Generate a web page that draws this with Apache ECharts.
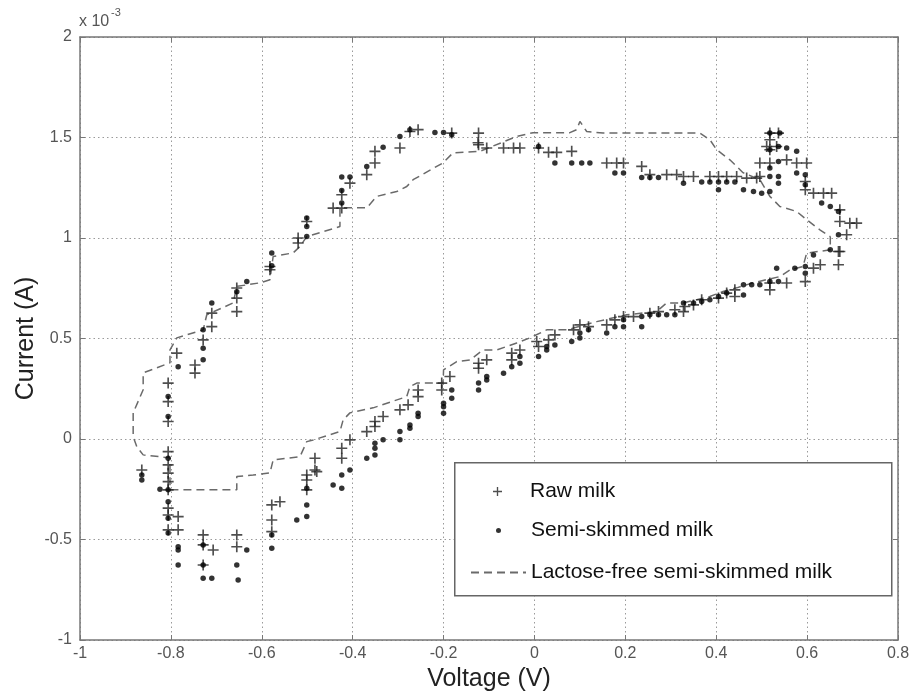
<!DOCTYPE html>
<html>
<head>
<meta charset="utf-8">
<script src="https://cdn.jsdelivr.net/npm/echarts@6/dist/echarts.min.js"></script>
<style>html,body{margin:0;padding:0;background:#fff}#c{width:911px;height:696px}</style>
</head>
<body>
<div id="c"></div>
<script>
// Voltage (V), Current (x 10^-3 A)
const rawMilk = [
[-0.256,1.539],[-0.274,1.530],[-0.296,1.448],[-0.351,1.431],[-0.351,1.373],[-0.369,1.315],[-0.406,1.273],
[-0.424,1.215],[-0.443,1.149],[-0.424,1.149],[-0.501,1.082],[-0.520,1.000],[-0.520,0.975],[-0.182,1.522],
[-0.123,1.522],[-0.124,1.474],[-0.123,1.464],[-0.105,1.448],[-0.068,1.448],[-0.046,1.448],[-0.032,1.448],
[0.009,1.448],[0.031,1.426],[0.049,1.426],[0.082,1.431],[0.159,1.373],[0.181,1.373],[0.196,1.373],
[0.236,1.356],[0.254,1.315],[0.291,1.315],[0.313,1.315],[0.328,1.306],[0.350,1.306],[0.386,1.306],
[0.405,1.306],[0.423,1.306],[0.445,1.306],[0.467,1.298],[0.489,1.298],[0.496,1.373],[0.518,1.522],
[0.537,1.522],[0.518,1.489],[0.518,1.439],[0.518,1.373],[0.555,1.389],[0.577,1.373],[0.599,1.373],
[0.596,1.240],[0.614,1.223],[0.636,1.223],[0.654,1.223],[0.672,1.140],[0.672,1.082],[0.694,1.074],
[0.709,1.074],[0.687,1.016],[0.669,0.933],[0.669,0.867],[0.629,0.867],[0.596,1.281],[0.511,1.455],
[0.533,1.455],[0.496,1.306],[0.672,0.933],[0.614,0.850],[0.596,0.783],[0.555,0.776],[0.518,0.776],
[0.518,0.742],[0.441,0.742],[0.441,0.709],[0.423,0.726],[0.405,0.701],[0.368,0.693],[0.350,0.667],
[0.331,0.659],[0.328,0.634],[0.309,0.643],[0.273,0.634],[0.254,0.626],[0.218,0.609],[0.196,0.609],
[0.177,0.593],[0.159,0.568],[0.119,0.559],[0.100,0.568],[0.086,0.543],[0.045,0.518],[0.031,0.493],
[0.009,0.460],[0.005,0.485],[-0.032,0.443],[-0.050,0.427],[-0.050,0.394],[-0.105,0.394],[-0.123,0.377],
[-0.123,0.352],[-0.186,0.311],[-0.204,0.278],[-0.204,0.244],[-0.256,0.244],[-0.256,0.211],[-0.278,0.170],
[-0.296,0.145],[-0.333,0.112],[-0.351,0.087],[-0.351,0.062],[-0.369,0.037],[-0.406,-0.004],[-0.424,-0.046],
[-0.424,-0.096],[-0.483,-0.096],[-0.483,-0.154],[-0.501,-0.179],[-0.501,-0.204],[-0.479,-0.162],
[-0.560,-0.312],[-0.578,-0.328],[-0.578,-0.403],[-0.578,-0.461],[-0.501,-0.253],[-0.655,-0.477],
[-0.655,-0.536],[-0.729,-0.477],[-0.729,-0.527],[-0.707,-0.552],[-0.729,-0.627],[-0.784,-0.386],
[-0.784,-0.452],[-0.806,-0.452],[-0.806,-0.378],[-0.806,-0.344],[-0.806,-0.253],[-0.806,-0.212],
[-0.806,-0.170],[-0.806,-0.129],[-0.806,-0.063],[-0.806,0.087],[-0.806,0.186],[-0.806,0.278],
[-0.864,-0.154],[-0.787,0.427],[-0.747,0.368],[-0.747,0.328],[-0.729,0.493],[-0.710,0.559],[-0.710,0.626],
[-0.655,0.634],[-0.655,0.701],[-0.655,0.751],[-0.582,0.842],[-0.582,0.858]
];

const semiSkimmedMilk = [
[-0.296,1.505],[-0.274,1.539],[-0.219,1.525],[-0.200,1.525],[-0.182,1.514],[-0.333,1.451],[-0.369,1.356],
[-0.424,1.303],[-0.406,1.303],[-0.424,1.236],[-0.424,1.174],[-0.501,1.099],[-0.501,1.057],[-0.501,1.007],
[-0.578,0.925],[-0.578,0.862],[0.009,1.455],[0.045,1.373],[0.082,1.373],[0.104,1.373],[0.122,1.373],
[0.177,1.323],[0.196,1.323],[0.236,1.301],[0.254,1.301],[0.273,1.301],[0.328,1.273],[0.368,1.278],
[0.386,1.278],[0.405,1.278],[0.423,1.278],[0.441,1.278],[0.405,1.240],[0.460,1.240],[0.482,1.231],
[0.500,1.223],[0.518,1.231],[0.518,1.522],[0.540,1.522],[0.518,1.439],[0.537,1.455],[0.555,1.448],
[0.577,1.431],[0.537,1.381],[0.518,1.348],[0.518,1.306],[0.537,1.306],[0.537,1.273],[0.577,1.323],
[0.596,1.315],[0.596,1.265],[0.632,1.174],[0.651,1.157],[0.669,1.132],[0.669,1.016],[0.651,0.941],
[0.614,0.916],[0.533,0.850],[0.573,0.850],[0.596,0.858],[0.596,0.825],[0.518,0.783],[0.537,0.783],
[0.460,0.767],[0.478,0.767],[0.496,0.767],[0.460,0.717],[0.423,0.726],[0.405,0.709],[0.386,0.693],
[0.368,0.684],[0.350,0.676],[0.328,0.676],[0.309,0.618],[0.291,0.618],[0.273,0.618],[0.254,0.618],
[0.236,0.609],[0.236,0.559],[0.196,0.593],[0.196,0.559],[0.177,0.559],[0.159,0.527],[0.119,0.543],
[0.100,0.527],[0.100,0.502],[0.082,0.485],[0.045,0.468],[0.027,0.460],[0.027,0.443],[0.009,0.410],
[-0.032,0.377],[-0.032,0.410],[-0.050,0.360],[-0.068,0.327],[-0.105,0.311],[-0.105,0.294],[-0.123,0.278],
[-0.123,0.244],[-0.182,0.244],[-0.182,0.203],[-0.200,0.178],[-0.200,0.161],[-0.200,0.128],[-0.256,0.128],
[-0.256,0.112],[-0.274,0.070],[-0.274,0.054],[-0.296,0.037],[-0.296,-0.004],[-0.333,-0.004],[-0.351,-0.021],
[-0.351,-0.046],[-0.369,-0.096],[-0.406,-0.154],[-0.424,-0.179],[-0.443,-0.229],[-0.424,-0.245],
[-0.501,-0.245],[-0.633,0.783],[-0.655,0.733],[-0.710,0.676],[-0.729,0.543],[-0.729,0.452],[-0.729,0.394],
[-0.784,0.360],[-0.806,0.211],[-0.806,0.112],[-0.806,-0.096],[-0.824,-0.250],[-0.864,-0.179],[-0.864,-0.204],
[-0.806,-0.253],[-0.806,-0.312],[-0.806,-0.394],[-0.806,-0.468],[-0.784,-0.536],[-0.784,-0.552],
[-0.784,-0.627],[-0.729,-0.527],[-0.729,-0.627],[-0.729,-0.693],[-0.710,-0.693],[-0.655,-0.627],
[-0.652,-0.701],[-0.633,-0.552],[-0.578,-0.477],[-0.578,-0.544],[-0.523,-0.403],[-0.501,-0.328],
[-0.501,-0.386],[-0.351,-0.079]
];

const lactoseFreeMilk = [
[0.651,1.007],[0.651,0.941],[0.599,0.925],[0.591,0.858],[0.563,0.842],[0.540,0.808],[0.481,0.777],
[0.445,0.752],[0.415,0.734],[0.386,0.709],[0.327,0.677],[0.291,0.677],[0.269,0.634],[0.203,0.618],
[0.137,0.584],[0.071,0.543],[0.027,0.543],[-0.010,0.503],[-0.039,0.478],[-0.083,0.443],[-0.113,0.443],
[-0.142,0.393],[-0.171,0.385],[-0.200,0.344],[-0.201,0.279],[-0.259,0.278],[-0.274,0.261],[-0.281,0.211],
[-0.355,0.155],[-0.406,0.130],[-0.421,0.095],[-0.428,0.037],[-0.487,-0.005],[-0.501,-0.013],[-0.516,-0.088],
[-0.575,-0.104],[-0.582,-0.169],[-0.619,-0.179],[-0.655,-0.187],[-0.655,-0.253],[-0.802,-0.253],
[-0.802,-0.094],[-0.861,-0.079],[-0.875,-0.038],[-0.883,0.012],[-0.883,0.130],[-0.861,0.245],[-0.861,0.329],
[-0.802,0.379],[-0.802,0.443],[-0.787,0.503],[-0.729,0.543],[-0.721,0.618],[-0.663,0.677],[-0.655,0.759],
[-0.604,0.777],[-0.582,0.792],[-0.575,0.908],[-0.531,0.926],[-0.516,0.958],[-0.501,1.007],[-0.428,1.057],
[-0.428,1.150],[-0.369,1.150],[-0.347,1.207],[-0.303,1.231],[-0.281,1.256],[-0.267,1.290],[-0.201,1.374],
[-0.179,1.424],[-0.120,1.431],[-0.039,1.505],[-0.003,1.524],[0.078,1.524],[0.093,1.539],[0.100,1.580],
[0.115,1.530],[0.151,1.522],[0.364,1.522],[0.386,1.489],[0.401,1.439],[0.430,1.389],[0.459,1.325],
[0.496,1.290],[0.518,1.207],[0.540,1.157],[0.577,1.132],[0.599,1.091],[0.628,1.041],[0.651,1.007]
];

const seriesNames = ['Raw milk', 'Semi-skimmed milk', 'Lactose-free semi-skimmed milk'];
const xRange = [-1, 0.8, 0.2];
const yRange = [-1, 2, 0.5];

const FONT = 'Liberation Sans, Arial, sans-serif';
const PLUS = 'path://M-0.15,-1L0.15,-1L0.15,-0.15L1,-0.15L1,0.15L0.15,0.15L0.15,1L-0.15,1L-0.15,0.15L-1,0.15L-1,-0.15L-0.15,-0.15Z';
const frame = {color:'#777', width:1.5};
const tickStyle = {show:true, inside:true, length:5, lineStyle:{color:'#777', width:1}};
const gridDots = {show:true, lineStyle:{color:'#9a9a9a', width:1, type:[1.5,3]}};
const legendText = {fontSize:21, color:'#111', fontFamily:FONT};

const chart = echarts.init(document.getElementById('c'), null, {renderer:'canvas'});
chart.setOption({
  animation:false,
  backgroundColor:'#fff',
  grid:{left:80, right:13, top:37, bottom:56, containLabel:false, outerBoundsMode:'none'},
  xAxis:[{
    type:'value', min:xRange[0], max:xRange[1], interval:xRange[2], position:'bottom',
    axisLine:{show:true, onZero:false, lineStyle:frame}, axisTick:tickStyle, splitLine:gridDots,
    axisLabel:{show:true, showMinLabel:true, showMaxLabel:true, fontSize:16, color:'#555', fontFamily:FONT, margin:6},
    name:'Voltage (V)', nameLocation:'middle', nameGap:24,
    nameTextStyle:{fontSize:25, color:'#222', fontFamily:FONT}
  },{
    type:'value', min:xRange[0], max:xRange[1], interval:xRange[2], position:'top',
    axisLine:{show:true, onZero:false, lineStyle:frame}, axisTick:tickStyle, splitLine:{show:false},
    axisLabel:{show:false}
  }],
  yAxis:[{
    type:'value', min:yRange[0], max:yRange[1], interval:yRange[2], position:'left',
    axisLine:{show:true, onZero:false, lineStyle:frame}, axisTick:tickStyle, splitLine:gridDots,
    axisLabel:{show:true, showMinLabel:true, showMaxLabel:true, fontSize:16, color:'#555', fontFamily:FONT, margin:8},
    name:'Current (A)', nameLocation:'middle', nameGap:41, nameRotate:90, nameMoveOverlap:false,
    nameTextStyle:{fontSize:25, color:'#222', fontFamily:FONT}
  },{
    type:'value', min:yRange[0], max:yRange[1], interval:yRange[2], position:'right',
    axisLine:{show:true, onZero:false, lineStyle:frame}, axisTick:tickStyle, splitLine:{show:false},
    axisLabel:{show:false}
  }],
  legend:[
    {data:[seriesNames[0]], left:493, top:481, itemWidth:55, itemHeight:9, padding:0, selectedMode:false,
     textStyle:legendText},
    {data:[seriesNames[1]], left:496, top:520, itemWidth:55, itemHeight:5, padding:0, selectedMode:false,
     textStyle:legendText},
    {data:[{name:seriesNames[2], itemStyle:{opacity:0}}], left:470, top:562, itemWidth:55, itemHeight:2,
     padding:0, selectedMode:false, textStyle:legendText}
  ],
  graphic:[
    {type:'rect', left:454, top:462, z:3, shape:{width:437, height:133},
     style:{fill:'#fff', stroke:'#666', lineWidth:1.5}},
    {type:'text', left:79, top:14, z:5, style:{text:'x 10', fontSize:16, fill:'#555', fontFamily:FONT}},
    {type:'text', left:111, top:7, z:5, style:{text:'-3', fontSize:11, fill:'#555', fontFamily:FONT}}
  ],
  series:[
    {name:seriesNames[2], type:'line', data:lactoseFreeMilk, symbol:'none', z:2,
     lineStyle:{color:'#6a6a6a', width:1.5, type:[8,5]}},
    {name:seriesNames[0], type:'scatter', data:rawMilk, symbol:PLUS, symbolSize:11, z:3,
     itemStyle:{color:'#222'}},
    {name:seriesNames[1], type:'scatter', data:semiSkimmedMilk, symbol:'circle', symbolSize:5.5, z:3,
     itemStyle:{color:'#000'}}
  ]
});
</script>
</body>
</html>
